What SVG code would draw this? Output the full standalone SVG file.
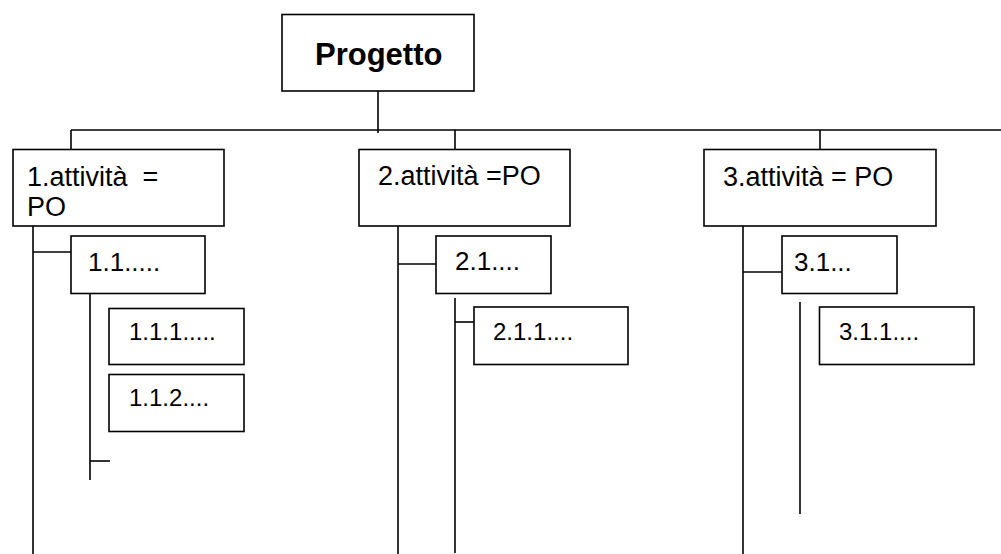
<svg xmlns="http://www.w3.org/2000/svg" width="1001" height="554" viewBox="0 0 1001 554">
<style>
rect.box{fill:#fff;stroke:#000;stroke-width:1.6}
.conn line{stroke:#000;stroke-width:1.6}
text{font-family:"Liberation Sans",Arial,sans-serif;fill:#000;white-space:pre}
.t1{font-size:31px;font-weight:bold}
.t2{font-size:27px}
.t3{font-size:26px}
.t4{font-size:24px}
</style>
<rect width="1001" height="554" fill="#fff"/>
<g class="conn" id="connectors">
<line x1="378" y1="91" x2="378" y2="133"/>
<line x1="71" y1="130" x2="1001" y2="130"/>
<line x1="71" y1="130" x2="71" y2="149"/>
<line x1="455" y1="130" x2="455" y2="149"/>
<line x1="820" y1="130" x2="820" y2="149"/>
<line x1="33" y1="226" x2="33" y2="554"/>
<line x1="33" y1="252" x2="71" y2="252"/>
<line x1="90" y1="287" x2="90" y2="480"/>
<line x1="90" y1="461" x2="110" y2="461"/>
<line x1="398" y1="226" x2="398" y2="554"/>
<line x1="398" y1="264" x2="436" y2="264"/>
<line x1="455" y1="298" x2="455" y2="553"/>
<line x1="455" y1="322" x2="474" y2="322"/>
<line x1="743" y1="217" x2="743" y2="554"/>
<line x1="743" y1="272" x2="782" y2="272"/>
<line x1="800" y1="302" x2="800" y2="514"/>
</g>
<g id="progetto"><rect class="box" x="282" y="14.5" width="192" height="76.5"/><text class="t1" x="315" y="65">Progetto</text></g>
<g id="a1"><rect class="box" x="13" y="149.5" width="211" height="76.5"/><text class="t2" x="27" y="186">1.attività&#160; =</text><text class="t2" x="27" y="216">PO</text></g>
<g id="a2"><rect class="box" x="359" y="149.5" width="211" height="76.5"/><text class="t2" x="378" y="185">2.attività =PO</text></g>
<g id="a3"><rect class="box" x="704" y="149.5" width="232" height="76.5"/><text class="t2" x="723" y="186">3.attività = PO</text></g>
<g id="a11"><rect class="box" x="71" y="236" width="134" height="57.5"/><text class="t3" x="88" y="271">1.1.....</text></g>
<g id="a21"><rect class="box" x="436" y="236" width="115" height="57.5"/><text class="t3" x="455" y="270">2.1....</text></g>
<g id="a31"><rect class="box" x="782" y="236" width="115" height="57.5"/><text class="t3" x="794" y="271">3.1...</text></g>
<g id="a111"><rect class="box" x="109" y="308.5" width="135" height="56"/><text class="t4" x="129" y="340">1.1.1.....</text></g>
<g id="a112"><rect class="box" x="109" y="374.5" width="135" height="57"/><text class="t4" x="129" y="406">1.1.2....</text></g>
<g id="a211"><rect class="box" x="474" y="307" width="154" height="57.5"/><text class="t4" x="493" y="340">2.1.1....</text></g>
<g id="a311"><rect class="box" x="819.5" y="307" width="154.5" height="57.5"/><text class="t4" x="839" y="340">3.1.1....</text></g>
</svg>
